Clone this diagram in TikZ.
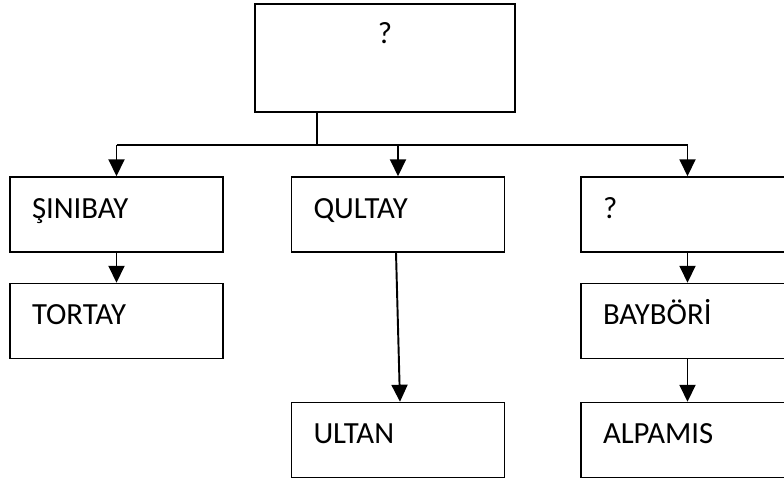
\documentclass[tikz,border=0pt]{standalone}
\usepackage{fontspec}
\setmainfont{Carlito}
\usetikzlibrary{arrows.meta,positioning,calc}

\begin{document}
\begin{tikzpicture}[>={Triangle[length=0.34cm,width=0.32cm]},
  kin/.style={draw,line width=0.85pt,minimum height=1.5cm,text width=3.38cm,
    inner xsep=0.44cm,inner ysep=0pt,align=left,text height=0.41cm,text depth=0.26cm,
    font=\fontsize{17.5}{20}\selectfont},
  root/.style={draw,line width=0.85pt,minimum height=2.16cm,text width=4.8cm,
    inner xsep=0.2cm,inner ysep=0pt,align=center,text height=0.41cm,text depth=1.0cm,
    font=\fontsize{17.5}{20}\selectfont},
  a/.style={->,line width=1.1pt}]
\clip (0,0) rectangle (15.68,-9.6);
% ata
\node[root] (ata) at (7.70,-1.16) {?};
% birinci kusak
\node[kin] (sinibay) at (2.33,-4.29) {ŞINIBAY};
\node[kin] (qultay) at (7.96,-4.29) {QULTAY};
\node[kin] (bilinmez) at (13.75,-4.29) {?};
% ikinci kusak
\node[kin] (tortay) at (2.33,-6.42) {TORTAY};
\node[kin] (bayb) at (13.75,-6.42) {BAYBÖRİ};
% ucuncu kusak
\node[kin] (ultan) at (7.96,-8.80) {ULTAN};
\node[kin] (alpamis) at (13.75,-8.80) {ALPAMIS};
% baglantilar
\coordinate (j) at (6.34,-2.90);
\draw[line width=0.85pt] (ata.south -| j)--(j);
\draw[line width=0.85pt] (sinibay.north |- j)--(bilinmez.north |- j);
\draw[a] (sinibay.north |- j)--(sinibay.north);
\draw[a] (qultay.north |- j)--(qultay.north);
\draw[a] (bilinmez.north |- j)--(bilinmez.north);
\draw[a] (sinibay)--(tortay);
\draw[a] ([xshift=-0.04cm]qultay.south)--([xshift=0.04cm]ultan.north);
\draw[a] (bilinmez)--(bayb);
\draw[a] (bayb)--(alpamis);
\end{tikzpicture}
\end{document}
